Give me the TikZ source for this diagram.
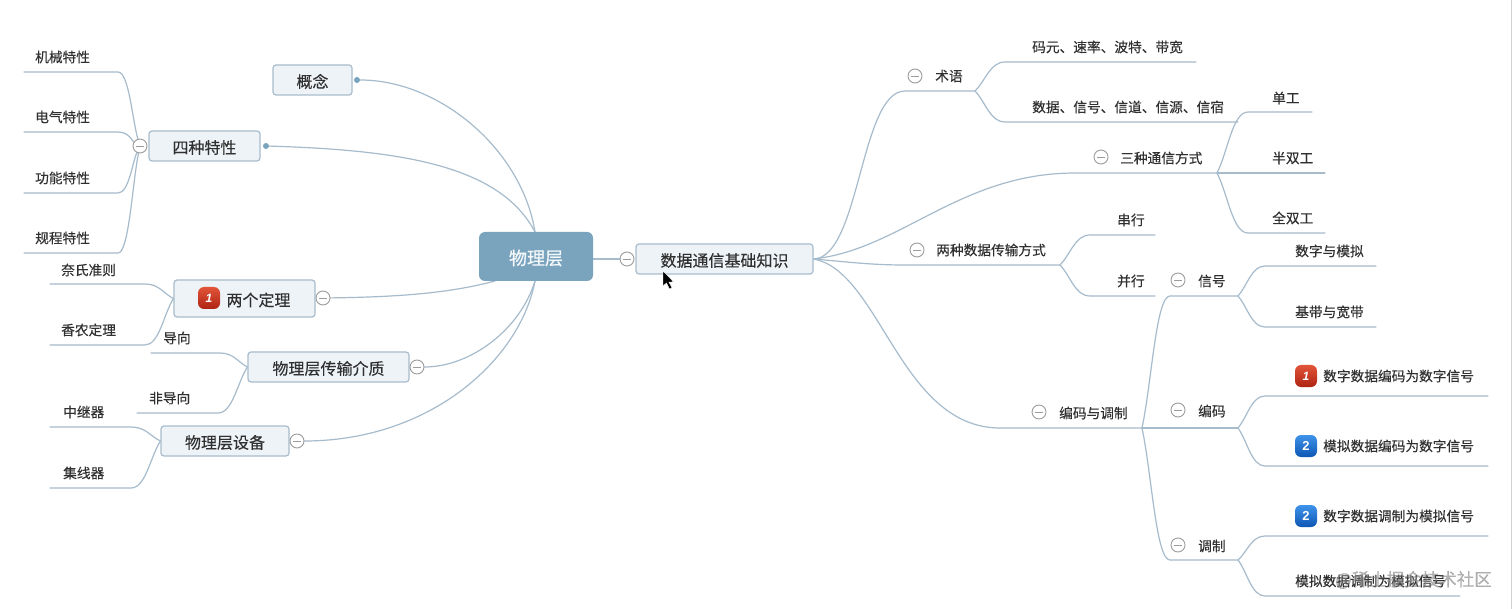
\documentclass[tikz,border=0pt]{standalone}
\usepackage{fontspec}
\setmainfont[FakeBold=0.25]{Noto Sans CJK SC}
\newfontfamily\rootfont[FakeBold=0.8]{Noto Sans CJK SC}
\newfontfamily\latinbadge{Liberation Sans}
\usetikzlibrary{calc,backgrounds}
\definecolor{linec}{HTML}{A6BBCC}
\definecolor{boxfill}{HTML}{EEF3F8}
\definecolor{boxline}{HTML}{A9BCCC}
\definecolor{rootfill}{HTML}{7AA3BE}
\definecolor{inkc}{HTML}{303030}
\definecolor{togc}{HTML}{9C9C9C}
\definecolor{redtop}{HTML}{E2543A}
\definecolor{redbot}{HTML}{AE2412}
\definecolor{bluetop}{HTML}{3E93EA}
\definecolor{bluebot}{HTML}{0E56B4}
\newcommand\twig[3]{\draw[conn] (#1) .. controls ($(#1)!.35!(#2)$) and ($(#2)!.5!(#1 |- #2)$) .. (#2) -- (#3);}
\newcommand\low[1]{\raisebox{-1.5pt}[\height][\depth]{#1}}
\tikzset{
  conn/.style={draw=linec,line width=1.2pt,line cap=round},
  topic/.style={draw=boxline,fill=boxfill,line width=1.2pt,rounded corners=3pt,inner sep=0pt,text=inkc,font=\fontsize{16}{16}\selectfont},
  rootbox/.style={fill=rootfill,rounded corners=6pt,inner sep=0pt,text=white!92!rootfill,font=\rootfont\fontsize{18}{18}\selectfont,minimum width=114pt,minimum height=49pt},
  leaf/.style={anchor=west,inner sep=0pt,text=inkc,font=\fontsize{13.7}{14}\selectfont},
  toggle/.style={circle,draw=togc,fill=white,line width=.9pt,minimum size=14pt,inner sep=0pt,
    path picture={\draw[togc,line width=.9pt] ([xshift=3pt]path picture bounding box.west) -- ([xshift=-3pt]path picture bounding box.east);}},
  dotend/.style={circle,fill=rootfill,minimum size=6pt,inner sep=0pt},
  badgered/.style={rounded corners=6pt,minimum size=22pt,inner sep=0pt,top color=redtop,bottom color=redbot,text=white,font=\latinbadge\bfseries\itshape\fontsize{12}{12}\selectfont},
  badgeblue/.style={rounded corners=6pt,minimum size=22pt,inner sep=0pt,top color=bluetop,bottom color=bluebot,text=white,font=\latinbadge\bfseries\fontsize{13}{13}\selectfont},
}
\begin{document}
\begin{tikzpicture}[x=1pt,y=-1pt]
\useasboundingbox (0,0) rectangle (1512,609);
% central and main topics
\node[rootbox] (root) at (536,256.5) {\low{物理层}};
\node[topic,minimum width=79pt,minimum height=30pt] (gn) at (312.5,80) {\low{概念}};
\node[topic,minimum width=111pt,minimum height=30pt] (tx) at (204.5,146) {\low{四种特性}};
\node[topic,minimum width=141pt,minimum height=37pt] (dl) at (244.5,298.5) {\hspace*{28pt}\low{两个定理}};
\node[topic,minimum width=161pt,minimum height=30pt] (jz) at (328.5,367) {\low{物理层传输介质}};
\node[topic,minimum width=128pt,minimum height=30pt] (sb) at (225,441) {\low{物理层设备}};
\node[topic,minimum width=177pt,minimum height=30pt] (sj) at (724.5,259) {\low{数据通信基础知识}};
% end dots and toggles
\node[dotend] (d1) at (357,80) {};
\node[dotend] (d2) at (266,146) {};
\node[toggle] (t1) at (140,146) {};
\node[toggle] (t2) at (323,298) {};
\node[toggle] (t3) at (417,367) {};
\node[toggle] (t4) at (297,441) {};
\node[toggle] (t5) at (627,259) {};
\node[toggle] (t6) at (915,76) {};
\node[toggle] (t7) at (1101,157) {};
\node[toggle] (t8) at (917,250) {};
\node[toggle] (t9) at (1039,412) {};
\node[toggle] (t10) at (1178,280) {};
\node[toggle] (t11) at (1178,410) {};
\node[toggle] (t12) at (1178,545) {};
% badges
\node[badgered] (b0) at (209,298) {1};
\node[badgered] (b1) at (1306,376) {1};
\node[badgeblue] (b2) at (1306,446) {2};
\node[badgeblue] (b3) at (1306,516) {2};
% left labels
\node[leaf] (a1) at (35,57) {机械特性};
\node[leaf] (a2) at (35,117) {电气特性};
\node[leaf] (a3) at (35,178) {功能特性};
\node[leaf] (a4) at (35,238) {规程特性};
\node[leaf] (a5) at (61,270) {奈氏准则};
\node[leaf] (a6) at (61,330) {香农定理};
\node[leaf] (a7) at (163,338) {导向};
\node[leaf] (a8) at (149,398) {非导向};
\node[leaf] (a9) at (63,412) {中继器};
\node[leaf] (a10) at (63,473) {集线器};
% right labels
\node[leaf] (r1) at (935,76) {术语};
\node[leaf] (r2) at (1032,47) {码元、速率、波特、带宽};
\node[leaf] (r3) at (1032,107) {数据、信号、信道、信源、信宿};
\node[leaf] (r4) at (1120,158) {三种通信方式};
\node[leaf] (r5) at (1272,98) {单工};
\node[leaf] (r6) at (1272,158) {半双工};
\node[leaf] (r7) at (1272,218) {全双工};
\node[leaf] (r8) at (936,250) {两种数据传输方式};
\node[leaf] (r9) at (1117,220) {串行};
\node[leaf] (r10) at (1117,281) {并行};
\node[leaf] (r11) at (1059,413) {编码与调制};
\node[leaf] (r12) at (1198,281) {信号};
\node[leaf] (r13) at (1295,251) {数字与模拟};
\node[leaf] (r14) at (1295,312) {基带与宽带};
\node[leaf] (r15) at (1198,411) {编码};
\node[leaf] (r16) at (1323,376) {数字数据编码为数字信号};
\node[leaf] (r17) at (1323,446) {模拟数据编码为数字信号};
\node[leaf] (r18) at (1198,546) {调制};
\node[leaf] (r19) at (1323,516) {数字数据调制为模拟信号};
\node[leaf] (r20) at (1295,581) {模拟数据调制为模拟信号};
\node[anchor=west,inner sep=0pt,text=gray,opacity=.6,font=\fontsize{17.5}{18}\selectfont] (wm) at (1335,580) {@稀土掘金技术社区};
% junctions, bends and free ends
\coordinate (rt) at (535,232);
\coordinate (rb) at (535,281);
\coordinate (rl) at (495,281);
\coordinate (la1) at (118,72);   \coordinate (le1) at (24,72);
\coordinate (la2) at (118,132);  \coordinate (le2) at (24,132);
\coordinate (la3) at (118,193);  \coordinate (le3) at (24,193);
\coordinate (la4) at (118,253);  \coordinate (le4) at (24,253);
\coordinate (la5) at (145,284);  \coordinate (le5) at (50,284);
\coordinate (la6) at (145,345);  \coordinate (le6) at (50,345);
\coordinate (la7) at (220,353);  \coordinate (le7) at (151,353);
\coordinate (la8) at (218,413);  \coordinate (le8) at (137,413);
\coordinate (la9) at (131,427);  \coordinate (le9) at (50,427);
\coordinate (la10) at (131,488); \coordinate (le10) at (50,488);
\coordinate (s0) at (813,259);
\coordinate (j1) at (975,91);   \coordinate (k1) at (905,91);
\coordinate (j2) at (1217,173); \coordinate (k2) at (1075,173);
\coordinate (j3) at (1060,265); \coordinate (k3) at (905,265);
\coordinate (j4) at (1142,428); \coordinate (k4) at (1000,428);
\coordinate (j5) at (1238,296); \coordinate (k5) at (1170,296);
\coordinate (j6) at (1238,428);
\coordinate (j7) at (1238,560); \coordinate (k7) at (1170,560);
\coordinate (ra1) at (1005,62);  \coordinate (re1) at (1196,62);
\coordinate (ra2) at (1005,122); \coordinate (re2) at (1238,122);
\coordinate (ra3) at (1248,112); \coordinate (re3) at (1312,112);
\coordinate (re4) at (1325,173);
\coordinate (ra5) at (1248,233); \coordinate (re5) at (1325,233);
\coordinate (ra6) at (1090,235); \coordinate (re6) at (1155,235);
\coordinate (ra7) at (1090,296); \coordinate (re7) at (1155,296);
\coordinate (ra8) at (1265,266); \coordinate (re8) at (1376,266);
\coordinate (ra9) at (1265,327); \coordinate (re9) at (1376,327);
\coordinate (ra10) at (1265,396); \coordinate (re10) at (1488,396);
\coordinate (ra11) at (1265,466); \coordinate (re11) at (1488,466);
\coordinate (ra12) at (1265,536); \coordinate (re12) at (1488,536);
\coordinate (ra13) at (1265,596); \coordinate (re13) at (1460,596);
\coordinate (cur) at (663,271);
\begin{scope}[on background layer]
\fill[white] (0,0) rectangle (1512,609);
\draw[black!18,line width=1pt] (1511,0) -- (1511,609);
% root to main topics
\draw[conn] (d1) .. controls (440,80) and (522,150) .. (rt);
\draw[conn] (d2) .. controls (400,150) and (500,165) .. (rt);
\draw[conn] (t2) .. controls (400,297) and (450,293) .. (rl);
\draw[conn] (t3) .. controls (470,367) and (520,330) .. (rb);
\draw[conn] (t4) .. controls (430,441) and (520,360) .. (rb);
\draw[conn] (root.east |- t5) -- (t5);
% left leaves
\twig{t1}{la1}{le1}
\twig{t1}{la2}{le2}
\twig{t1}{la3}{le3}
\twig{t1}{la4}{le4}
\twig{dl.west}{la5}{le5}
\twig{dl.west}{la6}{le6}
\twig{jz.west}{la7}{le7}
\twig{jz.west}{la8}{le8}
\twig{sb.west}{la9}{le9}
\twig{sb.west}{la10}{le10}
% right main branches
\draw[conn] (s0) .. controls (860,259) and (860,91) .. (k1) -- (j1);
\draw[conn] (s0) .. controls (900,250) and (960,173) .. (k2) -- (j2);
\draw[conn] (s0) .. controls (850,262) and (870,265) .. (k3) -- (j3);
\draw[conn] (s0) .. controls (880,270) and (900,428) .. (k4) -- (j4);
% right sub branches
\twig{j1}{ra1}{re1}
\twig{j1}{ra2}{re2}
\twig{j2}{ra3}{re3}
\draw[conn] (j2) -- (re4);
\twig{j2}{ra5}{re5}
\twig{j3}{ra6}{re6}
\twig{j3}{ra7}{re7}
\twig{j4}{k5}{j5}
\draw[conn] (j4) -- (j6);
\twig{j4}{k7}{j7}
\twig{j5}{ra8}{re8}
\twig{j5}{ra9}{re9}
\twig{j6}{ra10}{re10}
\twig{j6}{ra11}{re11}
\twig{j7}{ra12}{re12}
\twig{j7}{ra13}{re13}
\end{scope}
% mouse cursor
\fill[black,draw=white,line width=.4pt] (cur) -- ++(0,15) -- ++(3.5,-3) -- ++(3,6) -- ++(2.5,-1.2) -- ++(-3,-5.6) -- ++(4.5,-.4) -- cycle;
\end{tikzpicture}
\end{document}
